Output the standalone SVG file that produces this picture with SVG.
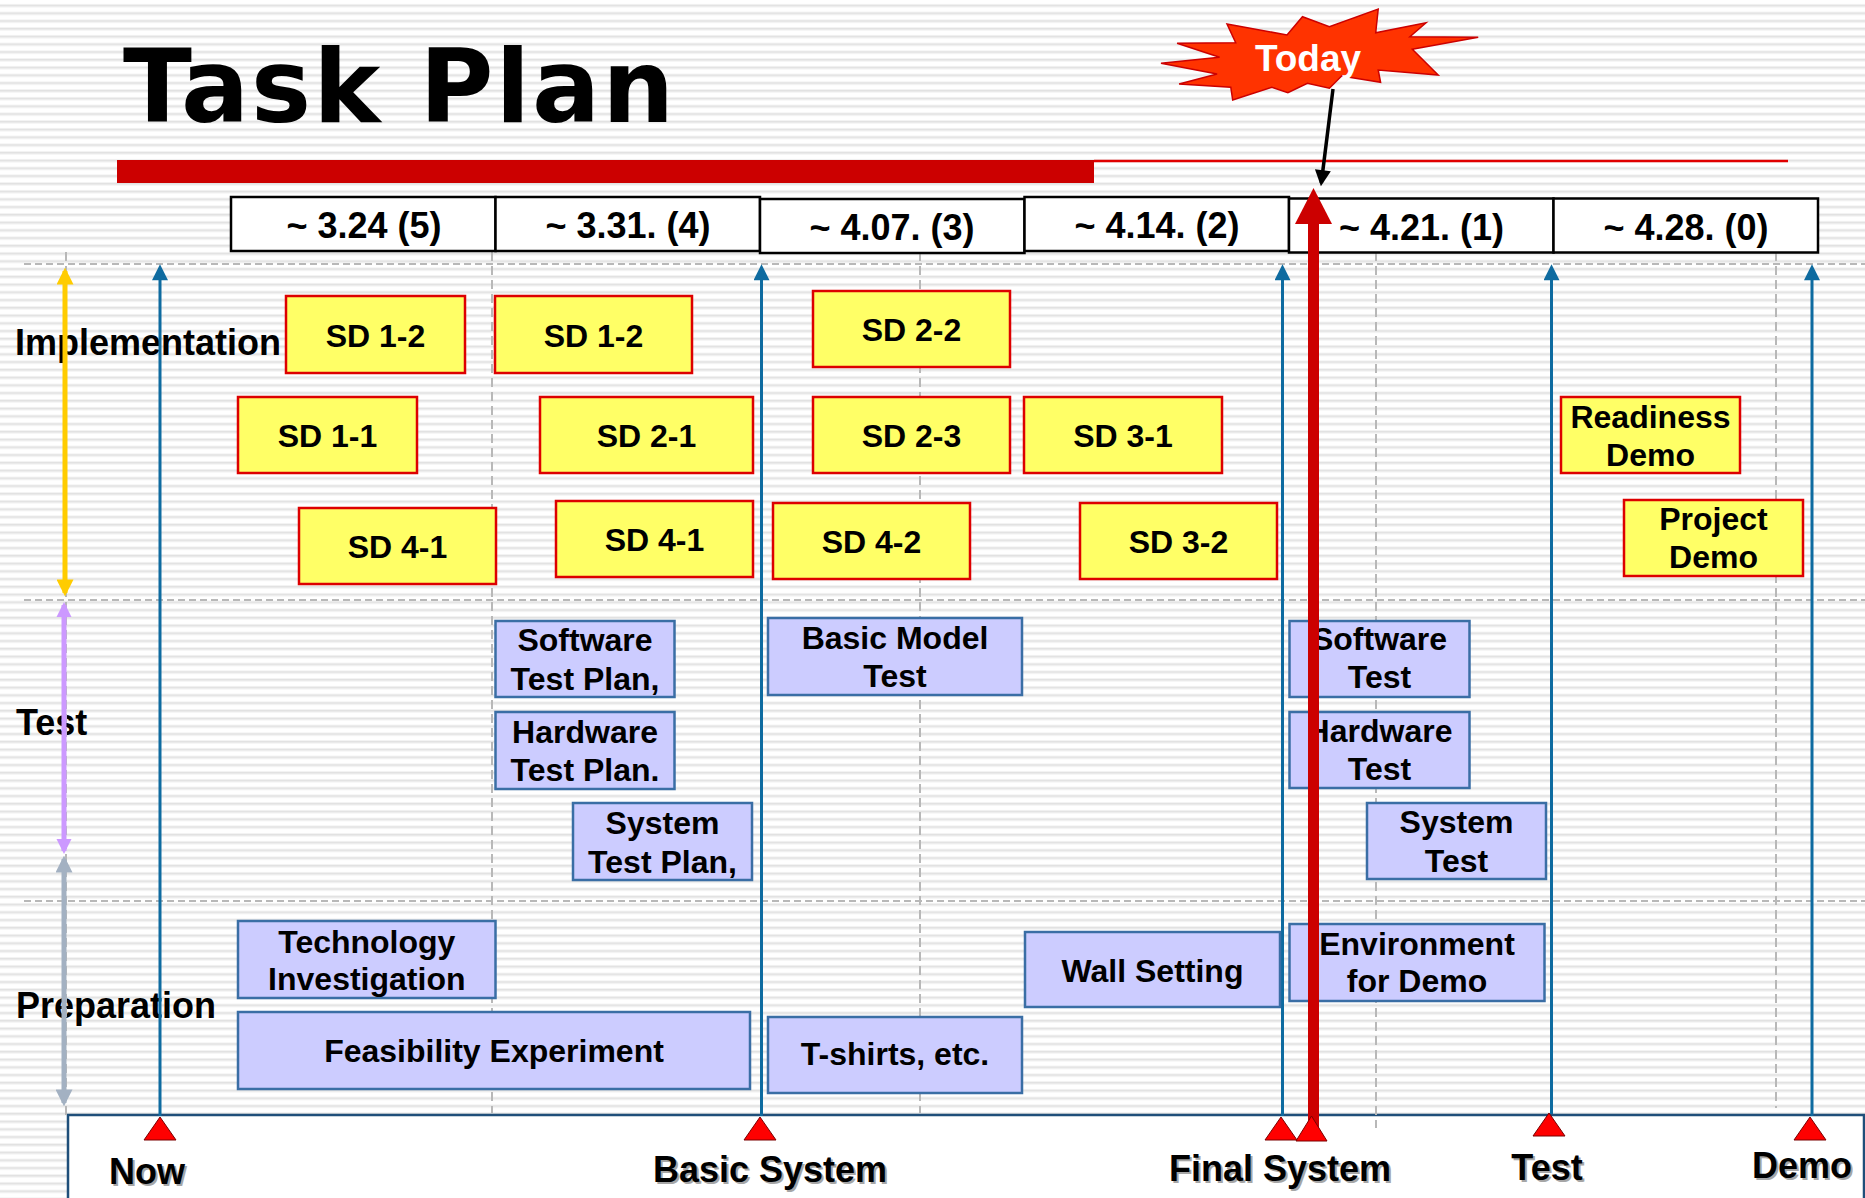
<svg xmlns="http://www.w3.org/2000/svg" width="1865" height="1198" viewBox="0 0 1865 1198">
  <defs>
    <pattern id="stripes" width="20" height="7.75" patternUnits="userSpaceOnUse">
      <rect width="20" height="7.75" fill="#ffffff"/>
      <rect y="4.1" width="20" height="0.8" fill="#efefef"/>
      <rect y="4.9" width="20" height="1.6" fill="#e0e0e0"/>
      <rect y="6.5" width="20" height="0.8" fill="#efefef"/>
    </pattern>
    <marker id="blueHead" viewBox="0 0 10 10" refX="7.6" refY="5" markerWidth="17" markerHeight="16" markerUnits="userSpaceOnUse" orient="auto">
      <path d="M0,0 L10,5 L0,10 Z" fill="#0e6ba0"/>
    </marker>
    <marker id="yellowHead" viewBox="0 0 10 10" refX="8" refY="5" markerWidth="17" markerHeight="17" markerUnits="userSpaceOnUse" orient="auto-start-reverse">
      <path d="M0,0 L10,5 L0,10 Z" fill="#ffcc00"/>
    </marker>
    <marker id="purpleHead" viewBox="0 0 10 10" refX="8" refY="5" markerWidth="15" markerHeight="17" markerUnits="userSpaceOnUse" orient="auto-start-reverse">
      <path d="M0,0 L10,5 L0,10 Z" fill="#cc99ff"/>
    </marker>
    <marker id="grayHead" viewBox="0 0 10 10" refX="8" refY="5" markerWidth="17" markerHeight="17" markerUnits="userSpaceOnUse" orient="auto-start-reverse">
      <path d="M0,0 L10,5 L0,10 Z" fill="#a3b1c2"/>
    </marker>
    <marker id="blackHead" viewBox="0 0 10 10" refX="8" refY="5" markerWidth="17" markerHeight="16" markerUnits="userSpaceOnUse" orient="auto">
      <path d="M0,0 L10,5 L0,10 Z" fill="#000000"/>
    </marker>
    <path id="milestone" d="M0,0 L16,23 L-16,23 Z"/>
    <style>
      text { font-family: "Liberation Sans", Arial, sans-serif; font-weight: bold; fill: #000; }
      .title { font-family: "DejaVu Sans", Verdana, sans-serif; font-size: 101px; letter-spacing: 2px; }
      .cat { font-size: 36px; }
      .week rect { fill: #ffffff; stroke: #000000; stroke-width: 2.5; }
      .week text { font-size: 36px; text-anchor: middle; }
      .impl rect { fill: #ffff66; stroke: #dd0000; stroke-width: 2.5; }
      .task rect { fill: #ccccff; stroke: #3a6ea5; stroke-width: 2.5; }
      .impl text, .task text { font-size: 32px; text-anchor: middle; }
      .grid line { stroke: #b8b8b8; stroke-width: 2; }
      .gh { stroke-dasharray: 7 4; }
      .gv { stroke-dasharray: 9 5; }
      .ms line { stroke: #0e6ba0; stroke-width: 3; marker-end: url(#blueHead); }
      .tri { fill: #ff0000; stroke: #7a0000; stroke-width: 1; }
      .mlabel { font-size: 36px; text-anchor: middle; }
      .shadow { fill: #a6a6a6; }
    </style>
  </defs>

  <!-- striped slide background -->
  <rect width="1865" height="1198" fill="url(#stripes)"/>

  <!-- title and rule -->
  <g id="title">
    <text class="title" x="123" y="122">Task Plan</text>
    <rect x="117" y="160" width="977" height="23" fill="#cc0000"/>
    <line x1="1094" y1="161" x2="1788" y2="161" stroke="#e00000" stroke-width="2.5"/>
  </g>

  <!-- bottom timeline panel -->
  <rect id="timeline-panel" x="68" y="1115" width="1796" height="100" fill="#ffffff" stroke="#1f4f7a" stroke-width="2.5"/>

  <!-- row labels -->
  <g id="row-labels">
    <text class="cat" x="15" y="355">Implementation</text>
    <text class="cat" x="16" y="735">Test</text>
    <text class="cat" x="16" y="1018">Preparation</text>
  </g>

  <!-- grid -->
  <g class="grid" id="grid">
    <line class="gh" x1="24" y1="264" x2="1865" y2="264"/>
    <line class="gh" x1="24" y1="600" x2="1865" y2="600"/>
    <line class="gh" x1="24" y1="901" x2="1865" y2="901"/>
    <line class="gv" x1="66" y1="252" x2="66" y2="1115"/>
    <line class="gv" x1="492" y1="252" x2="492" y2="1113"/>
    <line class="gv" x1="920" y1="252" x2="920" y2="1113"/>
    <line class="gv" x1="1376" y1="252" x2="1376" y2="1128"/>
    <line class="gv" x1="1776" y1="252" x2="1776" y2="1108"/>
  </g>

  <!-- week header -->
  <g class="week" id="weeks">
    <g id="week-1"><rect x="231" y="197" width="264.5" height="54"/><text x="364" y="238">~ 3.24 (5)</text></g>
    <g id="week-2"><rect x="495.5" y="197" width="264.5" height="54"/><text x="628" y="238">~ 3.31. (4)</text></g>
    <g id="week-3"><rect x="760" y="199" width="264.5" height="54"/><text x="892" y="240">~ 4.07. (3)</text></g>
    <g id="week-4"><rect x="1024.5" y="197" width="264.5" height="54"/><text x="1157" y="238">~ 4.14. (2)</text></g>
    <g id="week-5"><rect x="1289" y="198.5" width="264.5" height="54"/><text x="1421.5" y="239.5">~ 4.21. (1)</text></g>
    <g id="week-6"><rect x="1553.5" y="198.5" width="264.5" height="54"/><text x="1686" y="239.5">~ 4.28. (0)</text></g>
  </g>

  <!-- connectors: phase arrows, milestone lines, today marker -->
  <g id="connectors">
    <line x1="65" y1="271" x2="65" y2="593" stroke="#ffcc00" stroke-width="5" marker-start="url(#yellowHead)" marker-end="url(#yellowHead)"/>
    <line x1="64" y1="605" x2="64" y2="851" stroke="#cc99ff" stroke-width="5" marker-start="url(#purpleHead)" marker-end="url(#purpleHead)"/>
    <line x1="64" y1="859" x2="64" y2="1103" stroke="#a3b1c2" stroke-width="5" marker-start="url(#grayHead)" marker-end="url(#grayHead)"/>
    <g class="ms">
      <line x1="160" y1="1116" x2="160" y2="268"/>
      <line x1="761.5" y1="1116" x2="761.5" y2="268"/>
      <line x1="1282.5" y1="1116" x2="1282.5" y2="268"/>
      <line x1="1551.5" y1="1114" x2="1551.5" y2="268"/>
      <line x1="1812" y1="1116" x2="1812" y2="268"/>
    </g>
  </g>

  <!-- implementation tasks -->
  <g class="impl" id="implementation">
    <g id="sd12a"><rect x="286" y="296" width="179" height="77"/><text x="375.5" y="346.5">SD 1-2</text></g>
    <g id="sd12b"><rect x="495" y="296" width="197" height="77"/><text x="593.5" y="346.5">SD 1-2</text></g>
    <g id="sd11"><rect x="238" y="397" width="179" height="76"/><text x="327.5" y="447">SD 1-1</text></g>
    <g id="sd21"><rect x="540" y="397" width="213" height="76"/><text x="646.5" y="447">SD 2-1</text></g>
    <g id="sd41a"><rect x="299" y="508" width="197" height="76"/><text x="397.5" y="558">SD 4-1</text></g>
    <g id="sd41b"><rect x="556" y="501" width="197" height="76"/><text x="654.5" y="551">SD 4-1</text></g>
    <g id="sd22"><rect x="813" y="291" width="197" height="76"/><text x="911.5" y="341">SD 2-2</text></g>
    <g id="sd23"><rect x="813" y="397" width="197" height="76"/><text x="911.5" y="447">SD 2-3</text></g>
    <g id="sd31"><rect x="1024" y="397" width="198" height="76"/><text x="1123" y="447">SD 3-1</text></g>
    <g id="sd42"><rect x="773" y="503" width="197" height="76"/><text x="871.5" y="553">SD 4-2</text></g>
    <g id="sd32"><rect x="1080" y="503" width="197" height="76"/><text x="1178.5" y="553">SD 3-2</text></g>
    <g id="readiness-demo"><rect x="1561" y="397" width="179" height="76"/><text x="1650.5" y="428">Readiness</text><text x="1650.5" y="466">Demo</text></g>
    <g id="project-demo"><rect x="1624" y="500" width="179" height="76"/><text x="1713.5" y="530">Project</text><text x="1713.5" y="568">Demo</text></g>
  </g>

  <!-- test and preparation tasks -->
  <g class="task" id="tasks">
    <g id="sw-test-plan"><rect x="495.5" y="621" width="179" height="76"/><text x="585" y="651">Software</text><text x="585" y="690">Test Plan,</text></g>
    <g id="hw-test-plan"><rect x="495.5" y="712" width="179" height="77"/><text x="585" y="743">Hardware</text><text x="585" y="781">Test Plan.</text></g>
    <g id="sys-test-plan"><rect x="573" y="803" width="179" height="77"/><text x="662.5" y="834">System</text><text x="662.5" y="873">Test Plan,</text></g>
    <g id="basic-model-test"><rect x="768" y="618" width="254" height="77"/><text x="895" y="649">Basic Model</text><text x="895" y="687">Test</text></g>
    <g id="sw-test"><rect x="1289.5" y="621" width="180" height="76"/><text x="1379.5" y="650">Software</text><text x="1379.5" y="688">Test</text></g>
    <g id="hw-test"><rect x="1289.5" y="712" width="180" height="76"/><text x="1379.5" y="742">Hardware</text><text x="1379.5" y="780">Test</text></g>
    <g id="sys-test"><rect x="1367" y="803" width="179" height="76"/><text x="1456.5" y="833">System</text><text x="1456.5" y="872">Test</text></g>
    <g id="tech-investigation"><rect x="238" y="921" width="257.5" height="77"/><text x="366.8" y="953">Technology</text><text x="366.8" y="990">Investigation</text></g>
    <g id="feasibility"><rect x="238" y="1012" width="512" height="77"/><text x="494" y="1062">Feasibility Experiment</text></g>
    <g id="tshirts"><rect x="768" y="1017" width="254" height="76"/><text x="895" y="1065">T-shirts, etc.</text></g>
    <g id="wall-setting"><rect x="1025" y="932" width="255" height="75"/><text x="1152.5" y="982">Wall Setting</text></g>
    <g id="env-demo"><rect x="1289.5" y="924" width="255" height="77"/><text x="1417" y="955">Environment</text><text x="1417" y="992">for Demo</text></g>
  </g>

  <!-- today marker -->
  <g id="today">
    <rect x="1308" y="220" width="11" height="908" fill="#cc0000"/>
    <polygon points="1295,224 1313.5,188 1332,224" fill="#cc0000"/>
    <polygon points="1227,24 1287,35 1302.5,16.7 1329.4,26.7 1378.2,9 1375.7,32.7 1426,22.7 1409.9,36.7 1478.2,37.3 1412.3,49.3 1438.2,75 1378.2,70 1380.6,82.3 1341.6,76 1329.4,88.3 1307.4,83.3 1287.9,92.7 1271.8,87.3 1232.7,100 1230.8,87.3 1179.1,84 1217.1,74 1161,63.3 1219.6,57.3 1177.1,43.3 1235.7,42.7" fill="#ff3300" stroke="#cc0000" stroke-width="1.5" stroke-linejoin="miter"/>
    <text x="1308" y="71" font-size="37" text-anchor="middle" style="fill:#ffffff">Today</text>
    <line x1="1333" y1="89" x2="1321.3" y2="183" stroke="#000000" stroke-width="3.5" marker-end="url(#blackHead)"/>
  </g>

  <!-- milestones -->
  <g id="milestones">
    <use href="#milestone" class="tri" x="160" y="1117"/>
    <use href="#milestone" class="tri" x="760" y="1117"/>
    <use href="#milestone" class="tri" x="1281" y="1117"/>
    <path class="tri" d="M1311.5,1116 L1327,1141 L1296,1141 Z"/>
    <use href="#milestone" class="tri" x="1549" y="1113"/>
    <use href="#milestone" class="tri" x="1810" y="1117"/>
    <g class="mlabel">
      <text class="shadow" x="149" y="1186">Now</text>
      <text x="147" y="1184">Now</text>
      <text class="shadow" x="772" y="1184">Basic System</text>
      <text x="770" y="1182">Basic System</text>
      <text class="shadow" x="1282" y="1183">Final System</text>
      <text x="1280" y="1181">Final System</text>
      <text class="shadow" x="1549" y="1182">Test</text>
      <text x="1547" y="1180">Test</text>
      <text class="shadow" x="1804" y="1180">Demo</text>
      <text x="1802" y="1178">Demo</text>
    </g>
  </g>
</svg>
